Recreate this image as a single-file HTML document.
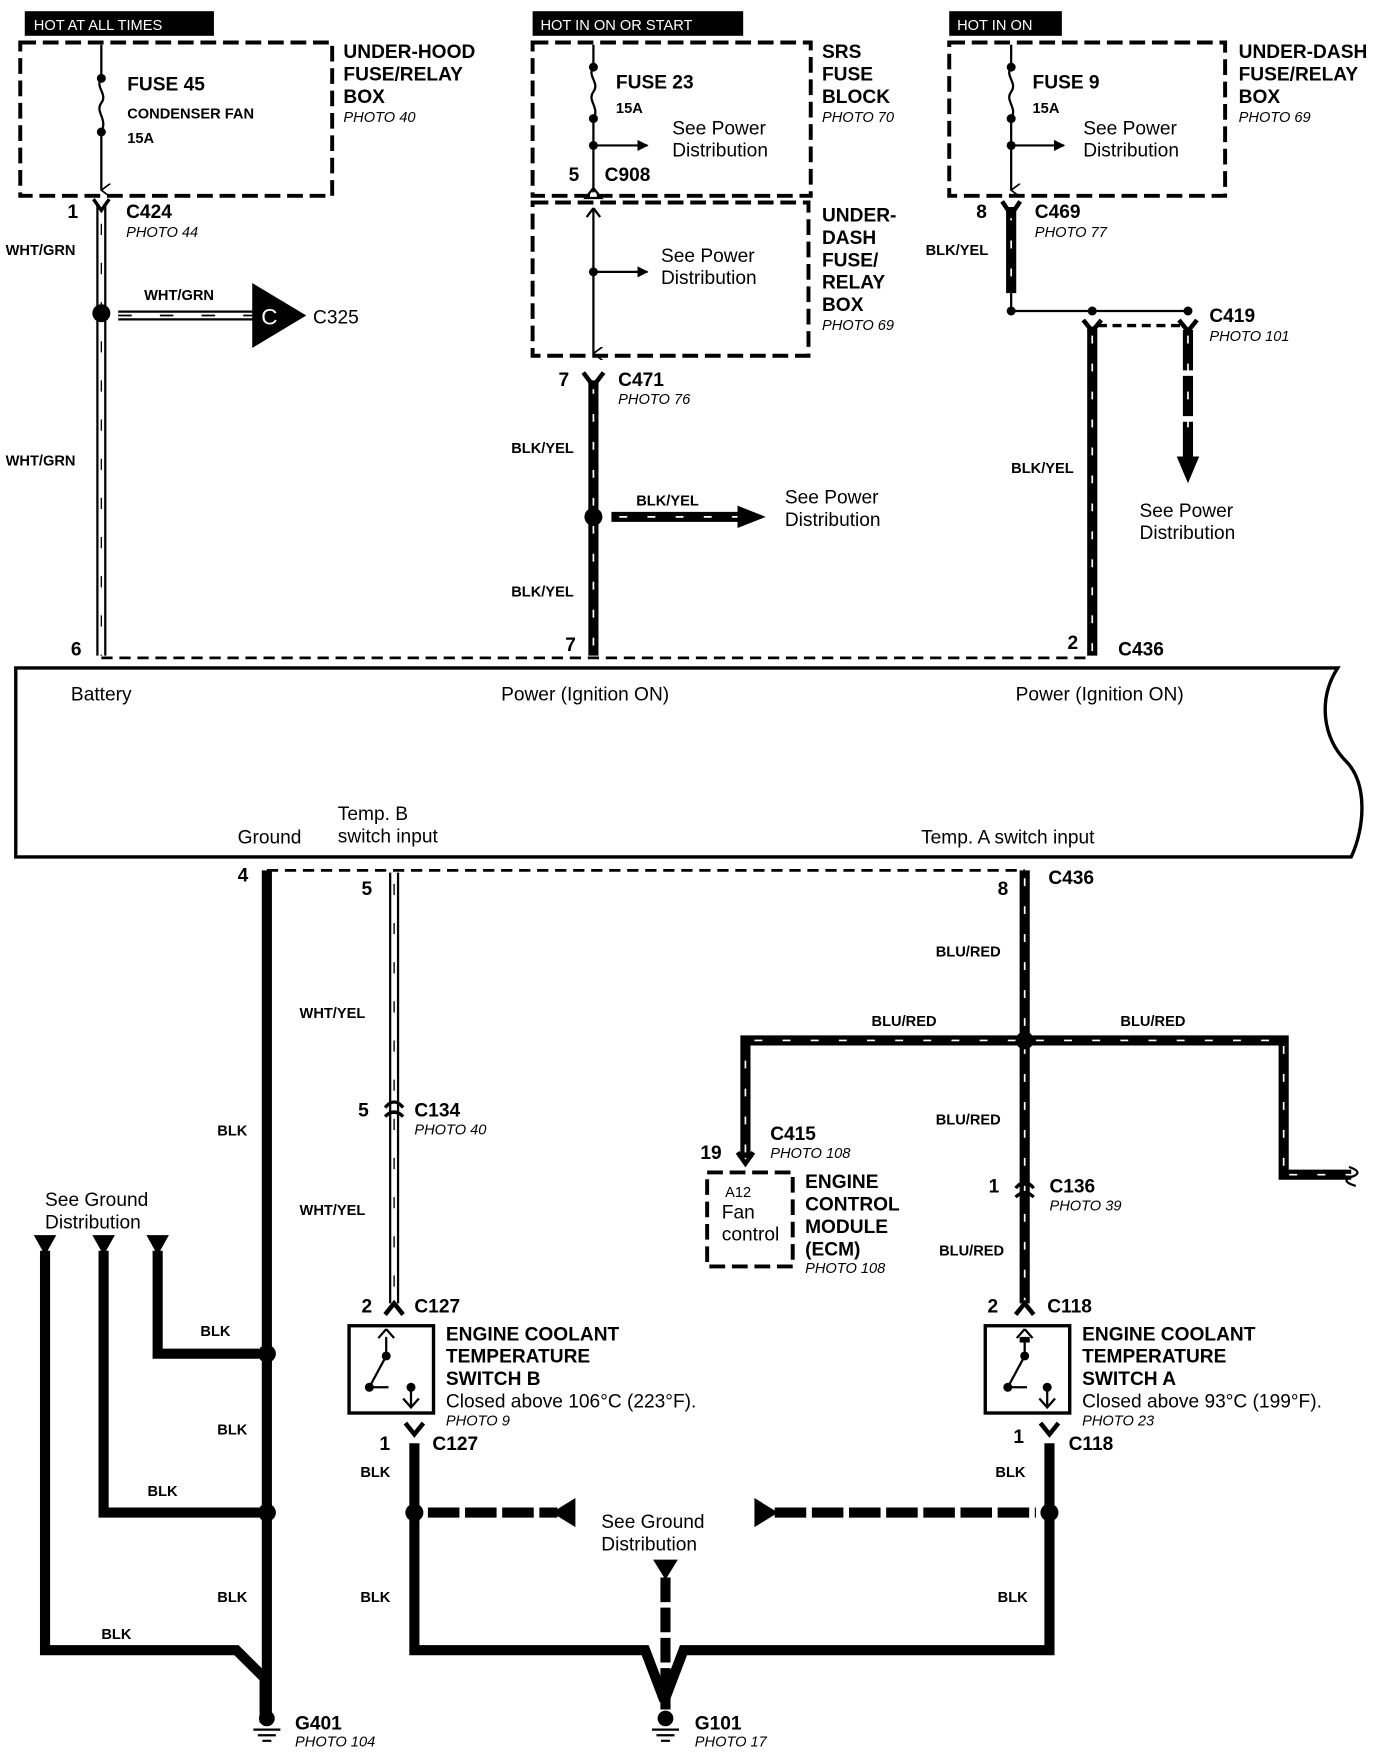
<!DOCTYPE html>
<html><head><meta charset="utf-8"><style>
html,body{margin:0;padding:0;background:#fff;}
svg{display:block}
text{font-family:"Liberation Sans",Arial,sans-serif;fill:#000}
.b{font-weight:bold;font-size:17px}
.s{font-weight:bold;font-size:13px}
.i{font-style:italic;font-size:13px}
.n{font-size:17px}
.w{font-size:13px;fill:#fff}
</style></head><body>
<svg width="1376" height="1752" viewBox="0 0 1222 1566" preserveAspectRatio="none" xmlns="http://www.w3.org/2000/svg">
<defs>
<marker id="ar" markerWidth="10" markerHeight="10" refX="9" refY="5" orient="auto" markerUnits="userSpaceOnUse"><path d="M0,0 L10,5 L0,10 z"/></marker>
<marker id="av" markerWidth="12" markerHeight="12" refX="6" refY="11" orient="auto" markerUnits="userSpaceOnUse"><path d="M0,3 L6,11 L12,3" fill="none" stroke="#000" stroke-width="1.5"/></marker>
</defs>
<rect x="22" y="10" width="168" height="22"/><text x="30" y="27" class="w">HOT AT ALL TIMES</text>
<rect x="473" y="10" width="187" height="22"/><text x="480" y="27" class="w">HOT IN ON OR START</text>
<rect x="843" y="10" width="100" height="22"/><text x="850" y="27" class="w">HOT IN ON</text>
<g fill="none" stroke="#000" stroke-width="3.5" stroke-dasharray="14,6">
<rect x="18" y="38" width="277" height="137"/>
<rect x="473" y="38" width="247" height="137"/>
<rect x="473" y="181" width="245" height="137"/>
<rect x="843" y="38" width="245" height="137"/>
<rect x="628" y="1048" width="76" height="84"/>
</g>
<text class="b"><tspan x="305" y="52">UNDER-HOOD</tspan><tspan x="305" y="72">FUSE/RELAY</tspan><tspan x="305" y="92">BOX</tspan></text><text x="305" y="109" class="i">PHOTO 40</text>
<text class="b"><tspan x="730" y="52">SRS</tspan><tspan x="730" y="72">FUSE</tspan><tspan x="730" y="92">BLOCK</tspan></text><text x="730" y="109" class="i">PHOTO 70</text>
<text class="b"><tspan x="730" y="198">UNDER-</tspan><tspan x="730" y="218">DASH</tspan><tspan x="730" y="238">FUSE/</tspan><tspan x="730" y="258">RELAY</tspan><tspan x="730" y="278">BOX</tspan></text><text x="730" y="295" class="i">PHOTO 69</text>
<text class="b"><tspan x="1100" y="52">UNDER-DASH</tspan><tspan x="1100" y="72">FUSE/RELAY</tspan><tspan x="1100" y="92">BOX</tspan></text><text x="1100" y="109" class="i">PHOTO 69</text>
<g fill="none" stroke="#000" stroke-width="2">
<path d="M90,40 V70 C84,78 96,84 90,92 C84,100 96,106 90,118 V170" marker-end="url(#av)"/>
<path d="M527,40 V60 C521,68 533,74 527,82 C521,90 533,96 527,106 V172"/>
<path d="M527,130 H575" marker-end="url(#ar)"/>
<path d="M898,40 V60 C892,68 904,74 898,82 C892,90 904,96 898,106 V170" marker-end="url(#av)"/>
<path d="M898,130 H945" marker-end="url(#ar)"/>
<path d="M527,186 V316" marker-end="url(#av)"/>
<path d="M527,186 l-6,8 M527,186 l6,8"/>
<path d="M527,243 H575" marker-end="url(#ar)"/>
</g>
<path d="M520,177 L527,168 L534,177z" fill="none" stroke="#000" stroke-width="2"/>
<g>
<circle cx="90" cy="70" r="4"/><circle cx="90" cy="118" r="4"/>
<circle cx="527" cy="60" r="4"/><circle cx="527" cy="106" r="4"/><circle cx="527" cy="130" r="4"/><circle cx="527" cy="243" r="4"/>
<circle cx="898" cy="60" r="4"/><circle cx="898" cy="106" r="4"/><circle cx="898" cy="130" r="4"/>
</g>
<text x="113" y="81" class="b">FUSE 45</text><text x="113" y="106" class="s">CONDENSER FAN</text><text x="113" y="128" class="s">15A</text>
<text x="547" y="79" class="b">FUSE 23</text><text x="547" y="101" class="s">15A</text>
<text x="917" y="79" class="b">FUSE 9</text><text x="917" y="101" class="s">15A</text>
<text class="n"><tspan x="597" y="120">See Power</tspan><tspan x="597" y="140">Distribution</tspan></text>
<text class="n"><tspan x="962" y="120">See Power</tspan><tspan x="962" y="140">Distribution</tspan></text>
<text class="n"><tspan x="587" y="234">See Power</tspan><tspan x="587" y="254">Distribution</tspan></text>
<text x="505" y="162" class="b">5</text><text x="537" y="162" class="b">C908</text>
<g fill="none" stroke="#000">
<path d="M90,182 V586" stroke-width="9"/><path d="M90,182 V586" stroke="#fff" stroke-width="5"/>
<path d="M90,200 V586" stroke-width="1.2" stroke-dasharray="10,25"/>
<path d="M105,282 H228" stroke-width="9"/><path d="M105,282 H228" stroke="#fff" stroke-width="5"/>
<path d="M105,282 H228" stroke-width="1.5" stroke-dasharray="12,25"/>
</g>
<circle cx="90" cy="280" r="8"/>
<path d="M224,253 L272,282 L224,311z"/><text x="232" y="290" font-size="20" style="fill:#fff">C</text>
<text x="278" y="289" class="n">C325</text>
<text x="128" y="268" class="s">WHT/GRN</text>
<text x="5" y="228" class="s">WHT/GRN</text><text x="5" y="416" class="s">WHT/GRN</text>
<path d="M83,178 L90,188 L97,178" fill="none" stroke="#000" stroke-width="3"/>
<text x="60" y="195" class="b">1</text><text x="112" y="195" class="b">C424</text><text x="112" y="212" class="i">PHOTO 44</text>
<g fill="none" stroke="#000" stroke-width="9">
<path d="M527,340 V586"/><path d="M543,462 H660"/>
<path d="M898,185 V262"/><path d="M970,292 V586"/>
<path d="M237,778 V1540"/><path d="M910,778 V1165"/>
<path d="M662,1035 V930 H1140 V1050 H1200"/>
<path d="M910,1195 V1200"/>
<path d="M368,1290 V1475 L573,1475 L590,1520"/>
<path d="M932,1290 V1475 L607,1475 L590,1520"/>
<path d="M140,1118 V1210 H230"/><path d="M92,1118 V1352 H230"/>
<path d="M40,1118 V1475 H210 L235,1500 V1540"/>
</g>
<path d="M1055,295 V410" fill="none" stroke="#000" stroke-width="9" stroke-dasharray="36,5"/>
<g fill="none" stroke="#fff" stroke-width="1.5" stroke-dasharray="7,18">
<path d="M527,345 V586"/><path d="M550,462 H655"/><path d="M898,190 V262"/><path d="M970,300 V586"/>
<path d="M1055,300 V400"/><path d="M910,785 V1165"/><path d="M662,1030 V935 M670,930 H1135 M1140,935 V1045 M1145,1050 H1200"/>
</g>
<path d="M655,452 L680,462 L655,472z"/>
<path d="M1045,408 L1055,432 L1065,408z"/>
<text x="565" y="452" class="s">BLK/YEL</text>
<text class="n"><tspan x="697" y="450">See Power</tspan><tspan x="697" y="470">Distribution</tspan></text>
<circle cx="527" cy="462" r="8"/>
<path d="M518,333 L527,345 L536,333" fill="none" stroke="#000" stroke-width="4"/>
<text x="496" y="345" class="b">7</text><text x="549" y="345" class="b">C471</text><text x="549" y="361" class="i">PHOTO 76</text>
<text x="454" y="405" class="s">BLK/YEL</text><text x="454" y="533" class="s">BLK/YEL</text>
<path d="M890,180 L898,192 L906,180" fill="none" stroke="#000" stroke-width="4"/>
<text x="867" y="195" class="b">8</text><text x="919" y="195" class="b">C469</text><text x="919" y="212" class="i">PHOTO 77</text>
<text x="822" y="228" class="s">BLK/YEL</text><text x="898" y="423" class="s">BLK/YEL</text>
<path d="M898,262 V278 H1055" fill="none" stroke="#000" stroke-width="2"/>
<circle cx="898" cy="278" r="4"/><circle cx="970" cy="278" r="4"/><circle cx="1055" cy="278" r="4"/>
<path d="M962,286 L970,296 L978,286 M1047,286 L1055,296 L1063,286" fill="none" stroke="#000" stroke-width="4"/>
<path d="M975,291 H1050" stroke="#000" stroke-width="3" stroke-dasharray="8,5"/>
<text x="1074" y="288" class="b">C419</text><text x="1074" y="305" class="i">PHOTO 101</text>
<text class="n"><tspan x="1012" y="462">See Power</tspan><tspan x="1012" y="482">Distribution</tspan></text>
<path d="M90,588 H970" stroke="#000" stroke-width="2.5" stroke-dasharray="10,6"/>
<text x="63" y="586" class="b">6</text><text x="502" y="582" class="b">7</text><text x="948" y="580" class="b">2</text><text x="993" y="586" class="b">C436</text>
<path d="M14,597 H1188 C1170,625 1175,660 1195,680 C1215,700 1212,740 1200,766 H14 Z" fill="#fff" stroke="#000" stroke-width="3"/>
<text x="63" y="626" class="n">Battery</text><text x="445" y="626" class="n">Power (Ignition ON)</text><text x="902" y="626" class="n">Power (Ignition ON)</text>
<text x="211" y="754" class="n">Ground</text><text class="n"><tspan x="300" y="733">Temp. B</tspan><tspan x="300" y="753">switch input</tspan></text>
<text x="818" y="754" class="n">Temp. A switch input</text>
<path d="M237,778 H910" stroke="#000" stroke-width="2.5" stroke-dasharray="10,6"/>
<text x="211" y="788" class="b">4</text><text x="321" y="800" class="b">5</text><text x="886" y="800" class="b">8</text><text x="931" y="790" class="b">C436</text>
<g fill="none" stroke="#000">
<path d="M350,780 V1165" stroke-width="9"/><path d="M350,780 V1165" stroke="#fff" stroke-width="5"/>
<path d="M350,790 V1165" stroke-width="1.2" stroke-dasharray="10,25"/>
</g>
<path d="M342,990 Q350,980 358,990 M342,998 Q350,990 358,998" fill="none" stroke="#000" stroke-width="3"/>
<text x="318" y="998" class="b">5</text><text x="368" y="998" class="b">C134</text><text x="368" y="1014" class="i">PHOTO 40</text>
<text x="266" y="910" class="s">WHT/YEL</text><text x="266" y="1086" class="s">WHT/YEL</text>
<text x="193" y="1015" class="s">BLK</text>
<rect x="310" y="1185" width="75" height="78" fill="none" stroke="#000" stroke-width="3"/>
<path d="M343,1195 V1212 L328,1240 H345 M365,1240 V1258 M343,1188 L336,1196 M343,1188 L350,1196 M358,1250 L365,1258 L372,1250" fill="none" stroke="#000" stroke-width="2"/>
<circle cx="343" cy="1212" r="4"/><circle cx="328" cy="1240" r="4"/><circle cx="365" cy="1240" r="4"/>
<path d="M342,1175 L350,1165 L358,1175" fill="none" stroke="#000" stroke-width="4"/>
<text x="321" y="1173" class="b">2</text><text x="368" y="1173" class="b">C127</text>
<text class="b"><tspan x="396" y="1198">ENGINE COOLANT</tspan><tspan x="396" y="1218">TEMPERATURE</tspan><tspan x="396" y="1238">SWITCH B</tspan></text>
<text x="396" y="1258" class="n">Closed above 106°C (223°F).</text><text x="396" y="1274" class="i">PHOTO 9</text>
<path d="M360,1272 L368,1282 L376,1272" fill="none" stroke="#000" stroke-width="4"/>
<text x="337" y="1296" class="b">1</text><text x="384" y="1296" class="b">C127</text>
<text x="320" y="1320" class="s">BLK</text><text x="320" y="1432" class="s">BLK</text>
<rect x="875" y="1185" width="75" height="78" fill="none" stroke="#000" stroke-width="3"/>
<path d="M910,1195 V1212 L895,1240 H912 M930,1240 V1258 M910,1188 L903,1196 M910,1188 L917,1196 M923,1250 L930,1258 L937,1250" fill="none" stroke="#000" stroke-width="2"/>
<circle cx="910" cy="1212" r="4"/><circle cx="895" cy="1240" r="4"/><circle cx="930" cy="1240" r="4"/>
<path d="M902,1175 L910,1165 L918,1175" fill="none" stroke="#000" stroke-width="4"/>
<text x="877" y="1173" class="b">2</text><text x="930" y="1173" class="b">C118</text>
<text class="b"><tspan x="961" y="1198">ENGINE COOLANT</tspan><tspan x="961" y="1218">TEMPERATURE</tspan><tspan x="961" y="1238">SWITCH A</tspan></text>
<text x="961" y="1258" class="n">Closed above 93°C (199°F).</text><text x="961" y="1274" class="i">PHOTO 23</text>
<path d="M924,1272 L932,1282 L940,1272" fill="none" stroke="#000" stroke-width="4"/>
<text x="900" y="1290" class="b">1</text><text x="949" y="1296" class="b">C118</text>
<text x="884" y="1320" class="s">BLK</text><text x="886" y="1432" class="s">BLK</text>
<circle cx="910" cy="930" r="8"/>
<path d="M902,1062 Q910,1052 918,1062 M902,1070 Q910,1062 918,1070" fill="none" stroke="#000" stroke-width="3"/>
<text x="878" y="1066" class="b">1</text><text x="932" y="1066" class="b">C136</text><text x="932" y="1082" class="i">PHOTO 39</text>
<text x="831" y="855" class="s">BLU/RED</text><text x="831" y="1005" class="s">BLU/RED</text><text x="834" y="1122" class="s">BLU/RED</text>
<text x="774" y="917" class="s">BLU/RED</text><text x="995" y="917" class="s">BLU/RED</text>
<path d="M1198,1043 Q1212,1048 1200,1052 Q1190,1056 1204,1060" fill="none" stroke="#000" stroke-width="2"/>
<path d="M655,1030 L662,1040 L669,1030" fill="none" stroke="#000" stroke-width="4"/>
<text x="622" y="1036" class="b">19</text><text x="684" y="1019" class="b">C415</text><text x="684" y="1035" class="i">PHOTO 108</text>
<text x="644" y="1070" font-size="13">A12</text><text class="n"><tspan x="641" y="1089">Fan</tspan><tspan x="641" y="1109">control</tspan></text>
<text class="b"><tspan x="715" y="1062">ENGINE</tspan><tspan x="715" y="1082">CONTROL</tspan><tspan x="715" y="1102">MODULE</tspan><tspan x="715" y="1122">(ECM)</tspan></text><text x="715" y="1138" class="i">PHOTO 108</text>
<text class="n"><tspan x="40" y="1078">See Ground</tspan><tspan x="40" y="1098">Distribution</tspan></text>
<path d="M30,1104 L50,1104 L40,1122z M82,1104 L102,1104 L92,1122z M130,1104 L150,1104 L140,1122z"/>
<circle cx="237" cy="1210" r="8"/><circle cx="237" cy="1352" r="8"/>
<text x="178" y="1194" class="s">BLK</text><text x="193" y="1282" class="s">BLK</text><text x="131" y="1337" class="s">BLK</text>
<text x="193" y="1432" class="s">BLK</text><text x="90" y="1465" class="s">BLK</text>
<circle cx="368" cy="1352" r="8"/><circle cx="932" cy="1352" r="8"/>
<path d="M380,1352 H495 M688,1352 H920" stroke="#000" stroke-width="9" stroke-dasharray="28,5"/>
<path d="M511,1339 L490,1352 L511,1365z"/>
<path d="M670,1339 L691,1352 L670,1365z"/>
<text class="n"><tspan x="534" y="1366">See Ground</tspan><tspan x="534" y="1386">Distribution</tspan></text>
<path d="M580,1394 L602,1394 L591,1412z"/>
<path d="M591,1410 V1528" stroke="#000" stroke-width="9" stroke-dasharray="22,5"/>
<circle cx="237" cy="1536" r="7"/><path d="M225,1546 H249 M229,1551 H245 M233,1556 H241" stroke="#000" stroke-width="2"/>
<circle cx="591" cy="1536" r="7"/><path d="M579,1546 H603 M583,1551 H599 M587,1556 H595" stroke="#000" stroke-width="2"/>
<text x="262" y="1546" class="b">G401</text><text x="262" y="1561" class="i">PHOTO 104</text>
<text x="617" y="1546" class="b">G101</text><text x="617" y="1561" class="i">PHOTO 17</text>
</svg>
</body></html>
